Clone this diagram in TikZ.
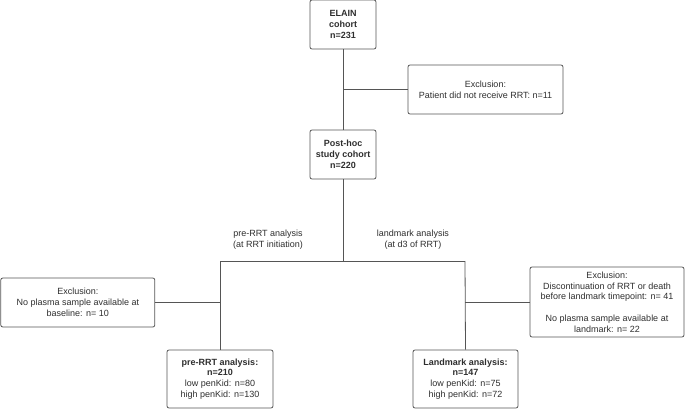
\documentclass[tikz,border=0pt]{standalone}
\usepackage{fontspec}
\setmainfont{Liberation Sans}
\definecolor{ln}{HTML}{555555}
\definecolor{tx}{HTML}{2E2E2E}
\begin{document}
\begin{tikzpicture}[x=1pt,y=-1pt,
  box/.style={draw=ln,line width=0.8pt,rounded corners=2pt,align=center,inner sep=1pt,
    font=\fontsize{9}{10.8}\selectfont,text=tx},
  conn/.style={draw=ln,line width=0.8pt},
  lbl/.style={align=center,font=\fontsize{9}{10.8}\selectfont,text=tx}]
\useasboundingbox (0,0) rectangle (685,409);
\node[box,minimum width=66pt,minimum height=49pt] (elain) at (343,24.5) {\textbf{ELAIN}\\\textbf{cohort}\\\textbf{n=231}};
\node[box,minimum width=155pt,minimum height=49pt] (excl1) at (485.5,89.5) {Exclusion:\\Patient did not receive RRT: n=11};
\node[box,minimum width=66pt,minimum height=49pt] (post) at (343,154.5) {\textbf{Post-hoc}\\\textbf{study cohort}\\\textbf{n=220}};
\coordinate (br) at (343,261);
\coordinate (L) at (220,261);
\coordinate (R) at (465,261);
\node[lbl] (lblL) at (268,240) {pre-RRT analysis\\(at RRT initiation)};
\node[lbl] (lblR) at (413,240) {landmark analysis\\(at d3 of RRT)};
\node[box,minimum width=154pt,minimum height=49pt] (exclL) at (77.8,302.5) {Exclusion:\\No plasma sample available at\\baseline: n= 10};
\node[box,minimum width=106pt,minimum height=58pt] (pre) at (220,379) {\textbf{pre-RRT analysis:}\\\textbf{n=210}\\low penKid: n=80\\high penKid: n=130};
\node[box,minimum width=154pt,minimum height=70pt] (exclR) at (607,302) {Exclusion:\\Discontinuation of RRT or death\\before landmark timepoint: n= 41\\[10.8pt]No plasma sample available at\\landmark: n= 22};
\node[box,minimum width=105pt,minimum height=58pt] (land) at (465.5,379) {\textbf{Landmark analysis:}\\\textbf{n=147}\\low penKid: n=75\\high penKid: n=72};
\draw[conn] (elain.south) -- (post.north);
\draw[conn] (elain.south |- excl1.west) -- (excl1.west);
\draw[conn] (post.south) -- (br);
\draw[conn] (L) -- (R);
\draw[conn] (L) -- (pre.north);
\draw[conn] (R) -- (land.north);
\draw[conn] (exclL.east) -- (exclL.east -| L);
\draw[conn] (exclR.west) -- (exclR.west -| R);
\end{tikzpicture}
\end{document}
